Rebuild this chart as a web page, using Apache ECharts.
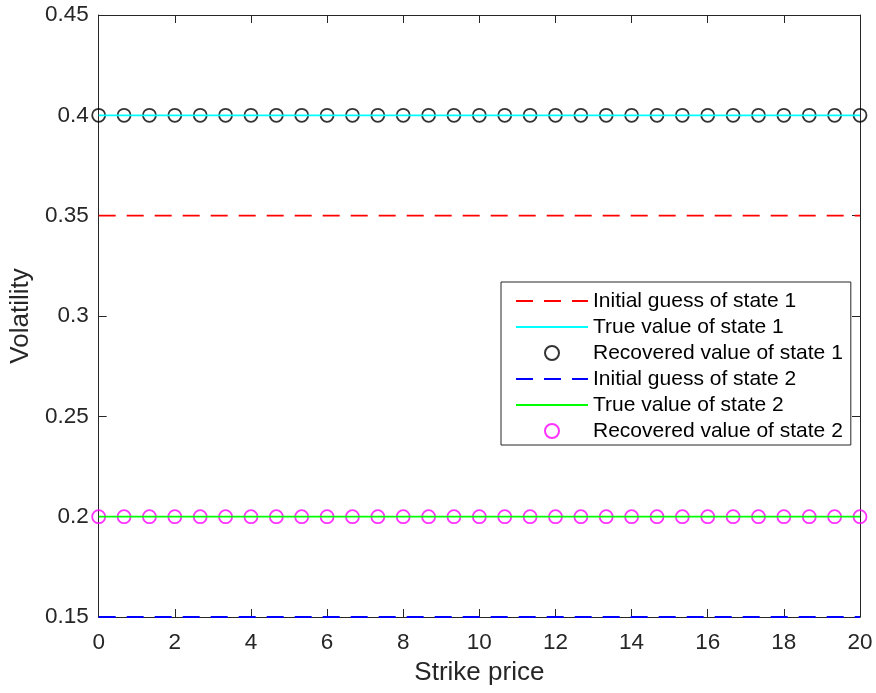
<!DOCTYPE html>
<html>
<head>
<meta charset="utf-8">
<script src="https://cdn.jsdelivr.net/npm/echarts@6/dist/echarts.min.js"></script>
<style>
  html, body { margin: 0; padding: 0; background: #ffffff; }
  #chart { width: 876px; height: 693px; }
</style>
</head>
<body>
<div id="chart"></div>
<script>
// Strike prices at which the volatility is evaluated
const strikePrices = [
  0, 0.667, 1.333, 2, 2.667, 3.333, 4, 4.667, 5.333, 6, 6.667,
  7.333, 8, 8.667, 9.333, 10, 10.667, 11.333, 12, 12.667, 13.333,
  14, 14.667, 15.333, 16, 16.667, 17.333, 18, 18.667, 19.333, 20
];

const initialGuess1 = [
  0.35, 0.35, 0.35, 0.35, 0.35, 0.35, 0.35, 0.35, 0.35, 0.35, 0.35,
  0.35, 0.35, 0.35, 0.35, 0.35, 0.35, 0.35, 0.35, 0.35, 0.35,
  0.35, 0.35, 0.35, 0.35, 0.35, 0.35, 0.35, 0.35, 0.35, 0.35
];
const trueValue1 = [
  0.4, 0.4, 0.4, 0.4, 0.4, 0.4, 0.4, 0.4, 0.4, 0.4, 0.4,
  0.4, 0.4, 0.4, 0.4, 0.4, 0.4, 0.4, 0.4, 0.4, 0.4,
  0.4, 0.4, 0.4, 0.4, 0.4, 0.4, 0.4, 0.4, 0.4, 0.4
];
const recovered1 = [
  0.4, 0.4, 0.4, 0.4, 0.4, 0.4, 0.4, 0.4, 0.4, 0.4, 0.4,
  0.4, 0.4, 0.4, 0.4, 0.4, 0.4, 0.4, 0.4, 0.4, 0.4,
  0.4, 0.4, 0.4, 0.4, 0.4, 0.4, 0.4, 0.4, 0.4, 0.4
];
const initialGuess2 = [
  0.15, 0.15, 0.15, 0.15, 0.15, 0.15, 0.15, 0.15, 0.15, 0.15, 0.15,
  0.15, 0.15, 0.15, 0.15, 0.15, 0.15, 0.15, 0.15, 0.15, 0.15,
  0.15, 0.15, 0.15, 0.15, 0.15, 0.15, 0.15, 0.15, 0.15, 0.15
];
const trueValue2 = [
  0.2, 0.2, 0.2, 0.2, 0.2, 0.2, 0.2, 0.2, 0.2, 0.2, 0.2,
  0.2, 0.2, 0.2, 0.2, 0.2, 0.2, 0.2, 0.2, 0.2, 0.2,
  0.2, 0.2, 0.2, 0.2, 0.2, 0.2, 0.2, 0.2, 0.2, 0.2
];
const recovered2 = [
  0.2, 0.2, 0.2, 0.2, 0.2, 0.2, 0.2, 0.2, 0.2, 0.2, 0.2,
  0.2, 0.2, 0.2, 0.2, 0.2, 0.2, 0.2, 0.2, 0.2, 0.2,
  0.2, 0.2, 0.2, 0.2, 0.2, 0.2, 0.2, 0.2, 0.2, 0.2
];

const seriesNames = [
  'Initial guess of state 1',
  'True value of state 1',
  'Recovered value of state 1',
  'Initial guess of state 2',
  'True value of state 2',
  'Recovered value of state 2'
];

const FONT = "'Liberation Sans', Arial, Helvetica, sans-serif";
const AXIS_COLOR = '#262626';
const pairs = ys => strikePrices.map((x, i) => [x, ys[i]]);

function lineSeries(name, values, color, dashed) {
  return {
    name, type: 'line', data: pairs(values),
    symbol: 'none', color,
    lineStyle: { color, width: 1.8, type: dashed ? [17, 11] : 'solid' },
    silent: true, animation: false
  };
}
function markerSeries(name, values, color) {
  return {
    name, type: 'scatter', data: pairs(values),
    symbol: 'circle', symbolSize: 13, color,
    itemStyle: { color: 'rgba(0,0,0,0)', borderColor: color, borderWidth: 1.8 },
    silent: true, animation: false, clip: false
  };
}

// Legend entries: line-only series show just their line sample
const legendData = seriesNames.map((name, i) => (i % 3 === 2)
  ? { name }
  : { name, itemStyle: { color: 'rgba(0,0,0,0)', borderWidth: 0, opacity: 0 } });

const tickCommon = { show: true, inside: true, length: 8, lineStyle: { color: AXIS_COLOR, width: 1 } };
const lineCommon = { show: true, onZero: false, lineStyle: { color: AXIS_COLOR, width: 1 } };

const chart = echarts.init(document.getElementById('chart'), null, { renderer: 'canvas' });
chart.setOption({
  backgroundColor: '#ffffff',
  animation: false,
  grid: { left: 97, right: 16, top: 15, bottom: 76, containLabel: false },
  xAxis: [
    {
      type: 'value', min: 0, max: 20, interval: 2,
      name: 'Strike price', nameLocation: 'middle', nameGap: 43,
      nameTextStyle: { fontFamily: FONT, fontSize: 26, color: AXIS_COLOR },
      axisLine: lineCommon, axisTick: tickCommon,
      axisLabel: { fontFamily: FONT, fontSize: 22.5, color: AXIS_COLOR, margin: 14 },
      splitLine: { show: false }
    },
    {
      type: 'value', min: 0, max: 20, interval: 2, position: 'top',
      axisLine: lineCommon, axisTick: tickCommon,
      axisLabel: { show: false }, splitLine: { show: false }
    }
  ],
  yAxis: [
    {
      type: 'value', min: 0.15, max: 0.45, interval: 0.05,
      name: 'Volatility', nameLocation: 'middle', nameGap: 60, nameRotate: 90,
      nameTextStyle: { fontFamily: FONT, fontSize: 26, color: AXIS_COLOR },
      axisLine: lineCommon, axisTick: tickCommon,
      axisLabel: {
        fontFamily: FONT, fontSize: 22.5, color: AXIS_COLOR, margin: 10,
        formatter: v => String(+v.toFixed(2))
      },
      splitLine: { show: false }
    },
    {
      type: 'value', min: 0.15, max: 0.45, interval: 0.05, position: 'right',
      axisLine: lineCommon, axisTick: tickCommon,
      axisLabel: { show: false }, splitLine: { show: false }
    }
  ],
  legend: {
    orient: 'vertical', left: 501, top: 282,
    padding: [6, 8, 1, 14],
    itemWidth: 72, itemHeight: 14, itemGap: 0,
    backgroundColor: '#ffffff', borderColor: AXIS_COLOR, borderWidth: 1,
    selectedMode: false,
    textStyle: { fontFamily: FONT, fontSize: 21, color: '#000000', lineHeight: 26 },
    data: legendData
  },
  series: [
    lineSeries(seriesNames[0], initialGuess1, '#ff0000', true),
    lineSeries(seriesNames[1], trueValue1, '#00ffff', false),
    markerSeries(seriesNames[2], recovered1, '#000000'),
    lineSeries(seriesNames[3], initialGuess2, '#0000ff', true),
    lineSeries(seriesNames[4], trueValue2, '#00ff00', false),
    markerSeries(seriesNames[5], recovered2, '#ff00ff')
  ]
});
</script>
</body>
</html>
